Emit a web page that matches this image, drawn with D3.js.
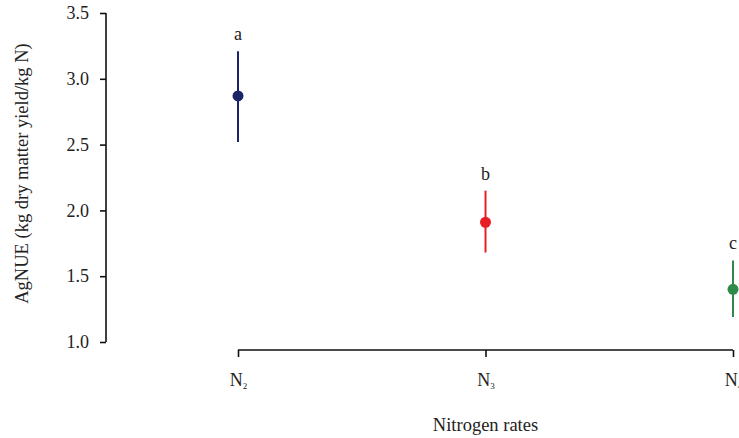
<!DOCTYPE html>
<html>
<head>
<meta charset="utf-8">
<script src="https://cdn.jsdelivr.net/npm/d3@7"></script>
<style>
  body { margin: 0; background: #fff; }
  svg text { font-family: "Liberation Serif", "Times New Roman", serif; fill: #222; }
  .axis path, .axis line { stroke: #111; stroke-width: 1.6; }
</style>
</head>
<body>
<div id="chart"></div>
<script>
var categories = ['N2', 'N3', 'N4'];
var means = [2.87, 1.91, 1.40];
var lower = [2.52, 1.68, 1.19];
var upper = [3.21, 2.15, 1.62];
var letters = ['a', 'b', 'c'];
var colors = ['#1b2468', '#e81e25', '#2e8b48'];
var yTicks = [1.0, 1.5, 2.0, 2.5, 3.0, 3.5];

var margin = { top: 13, right: 6, bottom: 96, left: 106 };
var width = 739 - margin.left - margin.right,
    height = 438 - margin.top - margin.bottom;

var svg = d3.select('#chart')
    .append('svg')
    .attr('width', 739)
    .attr('height', 438)
    .append('g')
    .attr('transform', 'translate(' + margin.left + ',' + margin.top + ')');

var yScale = d3.scaleLinear()
    .domain([1.0, 3.5])
    .range([329, 0]);

var xScale = d3.scalePoint()
    .domain(categories)
    .range([132, 627]);

var yAxis = d3.axisLeft(yScale)
    .tickValues(yTicks)
    .tickFormat(d3.format('.1f'))
    .tickSize(6)
    .tickPadding(11);

var xAxis = d3.axisBottom(xScale)
    .tickSize(7)
    .tickPadding(12)
    .tickFormat(function() { return ''; });

var gy = svg.append('g')
    .attr('class', 'axis y-axis')
    .call(yAxis);
gy.select('.domain').attr('d', 'M0,0V329');
gy.selectAll('.tick text').style('font-size', '18px');

var gx = svg.append('g')
    .attr('class', 'axis x-axis')
    .attr('transform', 'translate(0,337)')
    .call(xAxis);
gx.select('.domain').attr('d', 'M' + xScale('N2') + ',0H' + xScale('N4'));

// subscript tick labels
gx.selectAll('.tick').append('text')
    .attr('y', 36)
    .attr('text-anchor', 'middle')
    .style('font-size', '18px')
    .each(function(d) {
        var t = d3.select(this);
        t.append('tspan').text(d.charAt(0));
        t.append('tspan')
            .attr('dy', 3)
            .style('font-size', '9px')
            .text(d.slice(1));
    });

var groups = svg.selectAll('.grp')
    .data(categories)
    .enter()
    .append('g')
    .attr('class', 'grp');

groups.append('line')
    .attr('x1', function(d) { return xScale(d); })
    .attr('x2', function(d) { return xScale(d); })
    .attr('y1', function(d, i) { return yScale(lower[i]); })
    .attr('y2', function(d, i) { return yScale(upper[i]); })
    .attr('stroke', function(d, i) { return colors[i]; })
    .attr('stroke-width', 2);

groups.append('circle')
    .attr('cx', function(d) { return xScale(d); })
    .attr('cy', function(d, i) { return yScale(means[i]); })
    .attr('r', 5.5)
    .attr('fill', function(d, i) { return colors[i]; });

groups.append('text')
    .attr('x', function(d) { return xScale(d); })
    .attr('y', function(d, i) { return yScale(upper[i]) - 11; })
    .attr('text-anchor', 'middle')
    .style('font-size', '18px')
    .text(function(d, i) { return letters[i]; });

svg.append('text')
    .attr('x', xScale('N3'))
    .attr('y', 418)
    .attr('text-anchor', 'middle')
    .style('font-size', '18.5px')
    .text('Nitrogen rates');

svg.append('text')
    .attr('transform', 'translate(-78,' + yScale(2.28) + ') rotate(-90)')
    .attr('text-anchor', 'middle')
    .style('font-size', '18.5px')
    .text('AgNUE (kg dry matter yield/kg N)');
</script>
</body>
</html>
